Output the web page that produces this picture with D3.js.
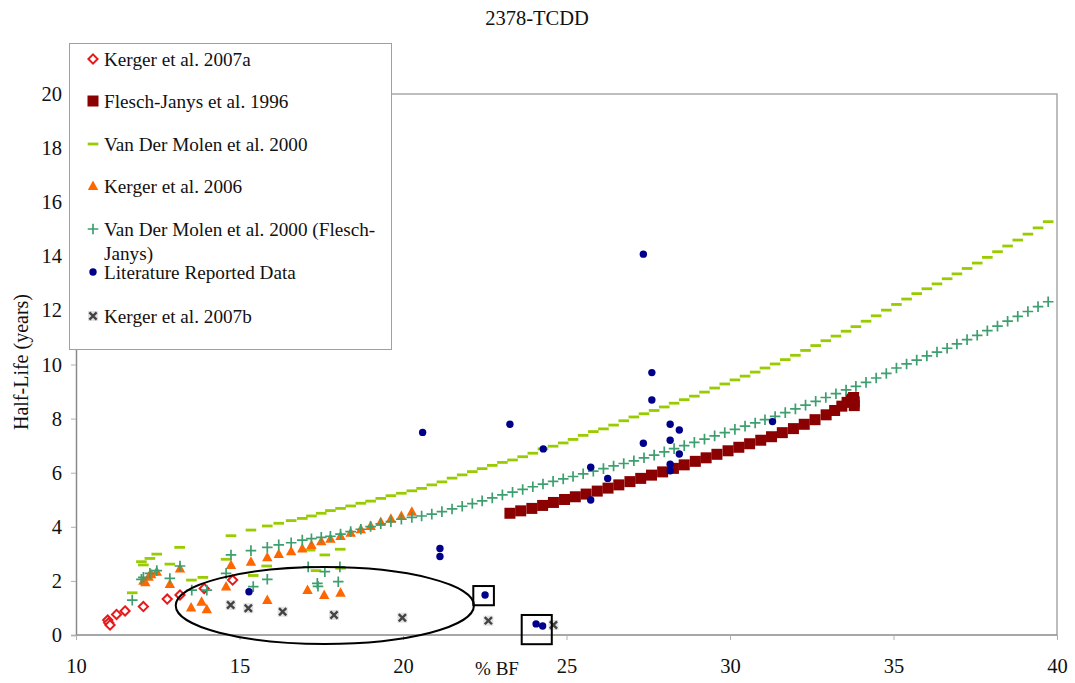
<!DOCTYPE html>
<html>
<head>
<meta charset="utf-8">
<script src="https://cdn.jsdelivr.net/npm/d3@7"></script>
<style>
  body { margin: 0; background: #fff; }
  text { font-family: "Liberation Serif", "Times New Roman", serif; fill: #111; }
</style>
</head>
<body>
<svg id="chart" width="1075" height="683"></svg>
<script>
// ---- data: [%BF, half-life (years)] ----
const kerger2007a = [[10.97,0.55],[11.0,0.45],[11.04,0.37],[11.24,0.76],[11.5,0.89],[12.06,1.05],
  [12.79,1.33],[13.18,1.48],[13.92,1.72],[14.79,2.03]];

const fleschJanys1996 = [[23.27,4.50],[23.60,4.59],[23.94,4.68],[24.27,4.79],[24.60,4.90],[24.94,5.01],
  [25.27,5.11],[25.60,5.21],[25.94,5.32],[26.27,5.43],[26.60,5.55],[26.94,5.67],[27.27,5.79],[27.60,5.91],
  [27.94,6.03],[28.27,6.16],[28.60,6.29],[28.94,6.42],[29.27,6.55],[29.60,6.68],[29.94,6.81],[30.27,6.94],
  [30.60,7.07],[30.94,7.20],[31.27,7.33],[31.60,7.48],[31.94,7.63],[32.27,7.79],[32.60,7.96],[32.94,8.14],
  [33.20,8.30],[33.42,8.46],[33.58,8.60],[33.70,8.72],[33.78,8.78],[33.80,8.62],[33.80,8.48]];

const vanDerMolen2000 = [
  [11.72,1.56],[12.0,2.71],[12.06,2.59],[12.26,2.83],[12.47,2.99],[12.87,2.62],[13.17,3.24],[13.53,2.03],
  [13.88,2.13],[14.59,2.80],[15.42,2.20],[15.83,2.55],[17.16,3.14],[17.34,2.38],[17.61,2.96],[18.08,3.17],[18.09,2.47],
  [14.74,3.67],[15.35,3.88],[15.85,4.03],[16.20,4.13],[16.58,4.23],[16.92,4.31],[17.20,4.40],[17.50,4.50],
  [17.78,4.60],[18.09,4.68],[18.40,4.77],[18.71,4.87],[19.01,4.95],[19.32,5.05],[19.63,5.15],[19.95,5.24],
  [20.27,5.33],[20.57,5.42],[20.88,5.55],[21.19,5.66],[21.50,5.80],[21.81,5.92],[22.12,6.04],[22.42,6.15],
  [22.73,6.27],[23.04,6.38],[23.35,6.47],[23.66,6.59],[23.97,6.72],[24.28,6.88],[24.59,6.98],[24.90,7.10],
  [25.20,7.23],[25.51,7.38],[25.82,7.52],[26.13,7.62],[26.44,7.76],[26.75,7.92],[27.06,8.06],[27.37,8.18],
  [27.68,8.30],[27.99,8.43],[28.29,8.57],[28.60,8.70],[28.91,8.83],[29.22,8.98],[29.53,9.13],[29.84,9.28],
  [30.15,9.43],[30.46,9.57],[30.77,9.72],[31.07,9.87],[31.38,10.02],[31.69,10.18],[32.00,10.34],[32.31,10.52],
  [32.62,10.70],[32.93,10.88],[33.24,11.05],[33.55,11.23],[33.85,11.40],[34.16,11.60],[34.47,11.80],[34.78,12.01],
  [35.09,12.22],[35.40,12.42],[35.71,12.62],[36.02,12.80],[36.33,12.98],[36.64,13.17],[36.94,13.35],[37.25,13.55],
  [37.56,13.75],[37.87,13.96],[38.18,14.17],[38.49,14.38],[38.80,14.60],[39.11,14.82],[39.42,15.05],[39.73,15.28]];

const kerger2006 = [[12.06,2.01],[12.12,1.95],[12.22,2.15],[12.30,2.25],[12.47,2.34],[12.87,1.89],[13.18,2.46],
  [13.52,1.02],[13.84,1.23],[14.0,0.95],[14.59,1.79],[14.74,2.59],[15.35,2.71],[15.85,2.87],[15.85,1.29],
  [16.20,2.99],[16.58,3.10],[16.92,3.20],[17.08,1.66],[17.20,3.33],[17.50,3.47],[17.59,1.48],[17.78,3.56],
  [18.09,3.66],[18.09,1.56],[18.40,3.78],[18.71,3.91],[19.01,4.03],[19.32,4.18],[19.63,4.30],[19.95,4.40],
  [20.27,4.56]];

const vanDerMolen2000FJ = [
  [11.72,1.29],[12.0,2.06],[12.06,2.13],[12.26,2.28],[12.47,2.38],[12.87,2.09],[13.18,2.55],[13.54,1.66],
  [14.0,1.66],[14.59,2.28],[15.42,1.79],[15.85,2.06],[17.10,2.52],[17.38,1.91],[17.40,1.80],[17.61,2.34],
  [18.07,2.52],[18.02,1.97],
  [14.74,2.96],[15.35,3.12],[15.85,3.24],[16.20,3.33],[16.58,3.41],[16.92,3.51],[17.20,3.56],[17.50,3.61],
  [17.78,3.65],[18.09,3.73],[18.40,3.82],[18.71,3.91],[19.01,4.01],[19.32,4.11],[19.63,4.19],[19.95,4.28],
  [20.27,4.35],[20.57,4.40],[20.88,4.47],[21.19,4.56],[21.50,4.66],[21.81,4.76],[22.12,4.86],[22.42,4.96],
  [22.73,5.07],[23.04,5.18],[23.35,5.28],[23.66,5.38],[23.97,5.48],[24.28,5.58],[24.59,5.68],[24.90,5.77],
  [25.20,5.86],[25.51,5.96],[25.82,6.06],[26.13,6.15],[26.44,6.25],[26.75,6.34],[27.06,6.44],[27.37,6.55],
  [27.68,6.65],[27.99,6.77],[28.29,6.89],[28.60,7.00],[28.91,7.12],[29.22,7.24],[29.53,7.36],[29.84,7.48],
  [30.15,7.60],[30.46,7.72],[30.77,7.84],[31.07,7.96],[31.38,8.08],[31.69,8.22],[32.00,8.36],[32.31,8.50],
  [32.62,8.64],[32.93,8.78],[33.24,8.92],[33.55,9.06],[33.85,9.19],[34.16,9.34],[34.47,9.50],[34.78,9.67],
  [35.09,9.87],[35.40,10.02],[35.71,10.16],[36.02,10.32],[36.33,10.46],[36.64,10.60],[36.94,10.76],[37.25,10.92],
  [37.56,11.08],[37.87,11.25],[38.18,11.42],[38.49,11.60],[38.80,11.78],[39.11,11.96],[39.42,12.14],[39.73,12.32]];

const literatureData = [[15.29,1.60],[20.60,7.49],[21.13,3.20],[21.13,2.90],[22.51,1.48],[23.27,7.79],
  [24.07,0.41],[24.27,0.33],[24.29,6.88],[25.74,6.20],[25.74,4.99],[26.26,5.79],[27.35,14.08],[27.35,7.09],
  [27.61,9.70],[27.61,8.69],[28.17,7.79],[28.17,7.20],[28.17,6.31],[28.17,6.07],[28.45,7.58],[28.45,6.69],
  [31.30,7.89]];

const kerger2007b = [[14.73,1.11],[15.27,0.99],[16.32,0.86],[17.89,0.74],[19.98,0.64],[22.61,0.53],[24.60,0.37]];

const xTicks = [10, 15, 20, 25, 30, 35, 40];
const yTicks = [0, 2, 4, 6, 8, 10, 12, 14, 16, 18, 20];

// annotation shapes, in data units
const circledGroup = { cx: 17.61, cy: 1.09, rx: 4.56, ry: 1.42 };
const boxedPoints = [ { x0: 22.15, x1: 22.78, y0: 1.10, y1: 1.81 },
                      { x0: 23.63, x1: 24.55, y0: -0.34, y1: 0.74 } ];

// ---- layout ----
const svg = d3.select("#chart");
const x = d3.scaleLinear().domain([10, 40]).range([76, 1057]);
const y = d3.scaleLinear().domain([0, 20]).range([635, 94]);

// plot frame (top and right edges)
svg.append("path")
  .attr("d", `M${x(10)},${y(20)}H${x(40)}V${y(0)}`)
  .attr("fill", "none").attr("stroke", "#a8a8a8").attr("stroke-width", 1.5);

// axes
const yAxis = svg.append("g").attr("transform", `translate(${x(10)},0)`)
  .call(d3.axisLeft(y).tickValues(yTicks).tickSize(5).tickPadding(9).tickFormat(d3.format("d")));
const xAxis = svg.append("g").attr("transform", `translate(0,${y(0)})`)
  .call(d3.axisBottom(x).tickValues(xTicks).tickSize(5).tickPadding(18).tickFormat(d3.format("d")));
[xAxis, yAxis].forEach(g => {
  g.select(".domain").attr("stroke", "#8a8a8a").attr("stroke-width", 1.5);
  g.selectAll(".tick line").attr("stroke", "#b0b0b0");
  g.selectAll(".tick text").style("font-family", '"Liberation Serif", serif').style("font-size", "20.5px").attr("fill", "#111");
});
xAxis.select(".domain").attr("d", `M${x(10)},0H${x(40)}`);

// titles
svg.append("text").attr("x", 537).attr("y", 25).attr("text-anchor", "middle")
  .style("font-size", "20.5px").text("2378-TCDD");
svg.append("text").attr("x", 497).attr("y", 675).attr("text-anchor", "middle")
  .style("font-size", "19px").text("% BF");
svg.append("text").attr("transform", "translate(28,362) rotate(-90)").attr("text-anchor", "middle")
  .style("font-size", "20px").text("Half-Life (years)");

// ---- marker painters ----
const markers = {
  diamond: g => g.append("path").attr("d", "M0,-4.6L4.6,0L0,4.6L-4.6,0Z")
    .attr("fill", "#fff").attr("stroke", "#e8191b").attr("stroke-width", 2),
  square: g => g.append("rect").attr("x", -5.5).attr("y", -5.5).attr("width", 11).attr("height", 11)
    .attr("fill", "#8b0000"),
  dash: g => g.append("rect").attr("x", -5.3).attr("y", -1.4).attr("width", 10.6).attr("height", 2.8)
    .attr("fill", "#99cc00"),
  triangle: g => g.append("path").attr("d", "M0,-5.5L5.2,4L-5.2,4Z").attr("fill", "#ff6600"),
  plus: g => g.append("path").attr("d", "M-5.3,0H5.3M0,-5.3V5.3")
    .attr("stroke", "#3d9f6e").attr("stroke-width", 1.7).attr("fill", "none"),
  dot: g => g.append("circle").attr("r", 3.7).attr("fill", "#00008b"),
  cross: g => {
    g.append("rect").attr("x", -5).attr("y", -5).attr("width", 10).attr("height", 10).attr("fill", "#e2e2e2");
    g.append("path").attr("d", "M-3.6,-3.6L3.6,3.6M-3.6,3.6L3.6,-3.6")
      .attr("stroke", "#444").attr("stroke-width", 2.4).attr("fill", "none");
  }
};

const series = [
  { name: "Kerger et al. 2007a", data: kerger2007a, marker: "diamond" },
  { name: "Flesch-Janys et al. 1996", data: fleschJanys1996, marker: "square" },
  { name: "Van Der Molen et al. 2000", data: vanDerMolen2000, marker: "dash" },
  { name: "Kerger et al. 2006", data: kerger2006, marker: "triangle" },
  { name: ["Van Der Molen et al. 2000 (Flesch-", "Janys)"], data: vanDerMolen2000FJ, marker: "plus" },
  { name: "Literature Reported Data", data: literatureData, marker: "dot" },
  { name: "Kerger et al. 2007b", data: kerger2007b, marker: "cross" }
];

const plot = svg.append("g");
series.forEach(s => {
  plot.append("g").selectAll("g").data(s.data).join("g")
    .attr("transform", d => `translate(${x(d[0])},${y(d[1])})`)
    .each(function () { markers[s.marker](d3.select(this)); });
});

// annotations
svg.append("ellipse")
  .attr("cx", x(circledGroup.cx)).attr("cy", y(circledGroup.cy))
  .attr("rx", x(circledGroup.cx + circledGroup.rx) - x(circledGroup.cx))
  .attr("ry", y(circledGroup.cy) - y(circledGroup.cy + circledGroup.ry))
  .attr("fill", "none").attr("stroke", "#000").attr("stroke-width", 2);
svg.selectAll(".box").data(boxedPoints).join("rect").attr("class", "box")
  .attr("x", d => x(d.x0)).attr("y", d => y(d.y1))
  .attr("width", d => x(d.x1) - x(d.x0)).attr("height", d => y(d.y0) - y(d.y1))
  .attr("fill", "none").attr("stroke", "#000").attr("stroke-width", 2);

// ---- legend ----
const legend = svg.append("g");
legend.append("rect").attr("x", 69.5).attr("y", 43.5).attr("width", 322).attr("height", 306)
  .attr("fill", "#fff").attr("stroke", "#a0a0a0").attr("stroke-width", 1);
const rowY = [59, 101, 144, 186, 229, 272, 316];
series.forEach((s, i) => {
  const row = legend.append("g").attr("transform", `translate(0,${rowY[i]})`);
  markers[s.marker](row.append("g").attr("transform", "translate(93,0)"));
  const t = row.append("text").attr("x", 104).attr("y", 6.5).style("font-size", "19.2px");
  const lines = Array.isArray(s.name) ? s.name : [s.name];
  lines.forEach((ln, k) => t.append("tspan").attr("x", 104).attr("dy", k ? 24 : 0).text(ln));
});
</script>
</body>
</html>
